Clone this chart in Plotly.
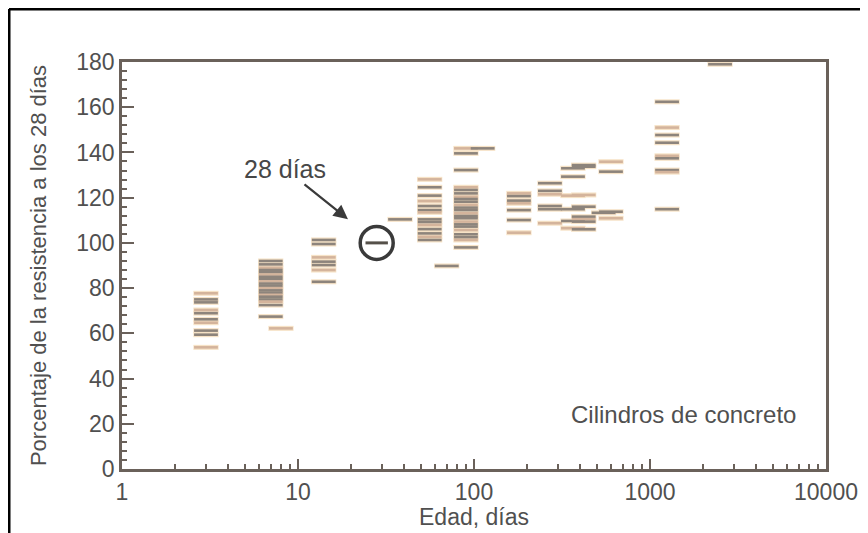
import plotly.graph_objects as go

# ---- data ----
ages_3 = [3] * 10
vals_3 = [77.7, 75.0, 73.7, 70.3, 68.9, 66.2, 64.7, 61.2, 59.4, 53.8]

ages_7 = [7] * 20 + [8]
vals_7 = [92, 90.5, 89, 88, 87, 86, 85, 84, 83, 82, 81, 80, 79, 78, 77, 76.2,
          75, 74, 72.5, 67.4, 62.2]

ages_14 = [14] * 7
vals_14 = [101.3, 99.5, 93.6, 91.7, 90.2, 88.0, 82.8]

ages_38 = [38]
vals_38 = [110.4]

ages_56 = [56] * 14 + [70]
vals_56 = [128.1, 124.6, 120.9, 118.5, 116.3, 114.5, 113.5, 110.4, 109.2,
           107.9, 106.1, 104.2, 102.7, 101.3, 89.8]

ages_90 = [90] * 23 + [112]
vals_90 = [141.8, 139.6, 132.2, 124.6, 123.4, 121.9, 120.4, 119.4, 118.2,
           116.8, 115.6, 114.5, 113.1, 111.9, 110.9, 109.4, 108.2, 107.2,
           105.7, 103.8, 102.5, 101.3, 98.0, 141.8]

ages_180 = [180] * 7
vals_180 = [121.9, 120.7, 118.7, 117.5, 114.5, 110.1, 104.5]

ages_270 = [270] * 6
vals_270 = [126.4, 123.0, 121.5, 116.3, 114.9, 108.7]

ages_365 = [365] * 6
vals_365 = [133.0, 129.3, 120.9, 114.9, 109.7, 106.5]

ages_420 = [420] * 8
vals_420 = [134.4, 133.7, 121.2, 116.0, 111.6, 110.5, 109.4, 106.0]

ages_600 = [600] * 4 + [545]
vals_600 = [135.9, 131.5, 113.8, 110.9, 113.3]

ages_1250 = [1250] * 9
vals_1250 = [162.4, 151.0, 147.7, 144.3, 138.5, 137.4, 132.2, 131.3, 114.9]

ages_2500 = [2500]
vals_2500 = [179.0]

age_28 = [28]
val_28 = [100]

x_ticks = [1, 10, 100, 1000, 10000]
x_labels = ["1", "10", "100", "1000", "10000"]
y_ticks = [0, 20, 40, 60, 80, 100, 120, 140, 160, 180]

# ---- assemble ----
all_ages = (ages_3 + ages_7 + ages_14 + ages_38 + ages_56 + ages_90 + ages_180 +
            ages_270 + ages_365 + ages_420 + ages_600 + ages_1250 + ages_2500)
all_vals = (vals_3 + vals_7 + vals_14 + vals_38 + vals_56 + vals_90 + vals_180 +
            vals_270 + vals_365 + vals_420 + vals_600 + vals_1250 + vals_2500)

dark = "#8d847c"
light = "#d4b49c"
cols = [light if i % 3 == 0 else dark for i in range(len(all_ages))]

x_minor = [m * 10 ** d for d in range(4) for m in range(2, 10)]

axis_col = "#6a615a"
text_col = "#505050"
font_fam = "Liberation Sans, Arial, sans-serif"

fig = go.Figure()
# halo
fig.add_trace(go.Scatter(
    x=all_ages, y=all_vals, mode="markers", hoverinfo="skip",
    marker=dict(symbol="line-ew", size=18,
                line=dict(color="#f6e2c6", width=5)),
    showlegend=False))
fig.add_trace(go.Scatter(
    x=all_ages, y=all_vals, mode="markers",
    marker=dict(symbol="line-ew", size=17,
                line=dict(color=cols, width=2.6)),
    showlegend=False))
# 28-day point
fig.add_trace(go.Scatter(
    x=age_28, y=val_28, mode="markers",
    marker=dict(symbol="circle-open", size=33, color="#3a3a3a",
                line=dict(color="#3a3a3a", width=3.5)),
    showlegend=False))
fig.add_trace(go.Scatter(
    x=age_28, y=val_28, mode="markers",
    marker=dict(symbol="line-ew", size=16, color="#555049",
                line=dict(color="#555049", width=3)),
    showlegend=False))

fig.update_xaxes(
    type="log", range=[0, 4], tickvals=x_ticks, ticktext=x_labels,
    ticks="inside", ticklen=10, tickwidth=2, tickcolor=axis_col,
    showline=True, linecolor=axis_col, linewidth=2.8, mirror=True,
    showgrid=False, zeroline=False, automargin=False,
    minor=dict(tickmode="array", tickvals=x_minor, ticks="inside", ticklen=5,
               tickwidth=1.5, tickcolor=axis_col, showgrid=False),
    tickfont=dict(size=23, color=text_col, family=font_fam),
    title=dict(text="Edad, días", font=dict(size=23, color=text_col, family=font_fam),
               standoff=2),
)
fig.update_yaxes(
    range=[0, 180], tickvals=y_ticks,
    ticks="inside", ticklen=12, tickwidth=2, tickcolor=axis_col,
    showline=True, linecolor=axis_col, linewidth=2.8, mirror=True,
    showgrid=False, zeroline=False, automargin=False,
    minor=dict(ticks="inside", dtick=4, ticklen=5, tickwidth=1.5,
               tickcolor=axis_col, showgrid=False),
    tickfont=dict(size=23, color=text_col, family=font_fam),
    title=dict(text="Porcentaje de la resistencia a los 28 días",
               font=dict(size=22, color=text_col, family=font_fam), standoff=24),
)

fig.add_annotation(x=0.926, y=132.5, xref="x", yref="y", text="28 días",
                   showarrow=False,
                   font=dict(size=25, color="#474747", family=font_fam))
fig.add_annotation(x=1.284, y=110.5, xref="x", yref="y", text="",
                   showarrow=True, ax=-45, ay=-36, arrowhead=2, arrowsize=1.3,
                   arrowwidth=2.2, arrowcolor="#3a3a3a")
fig.add_annotation(x=3.19, y=24, xref="x", yref="y", text="Cilindros de concreto",
                   showarrow=False,
                   font=dict(size=24, color=text_col, family=font_fam))

# outer image frame (top and left edges)
fig.add_shape(type="line", xref="paper", yref="paper",
              x0=-0.1605, x1=1.08, y0=1.130, y1=1.130,
              line=dict(color="black", width=3))
fig.add_shape(type="line", xref="paper", yref="paper",
              x0=-0.1605, x1=-0.1605, y0=1.130, y1=-0.17,
              line=dict(color="black", width=3))

fig.update_layout(
    width=860, height=525,
    margin=dict(l=114, r=42, t=54, b=64),
    plot_bgcolor="white", paper_bgcolor="white",
)

fig.write_html("out.html")
